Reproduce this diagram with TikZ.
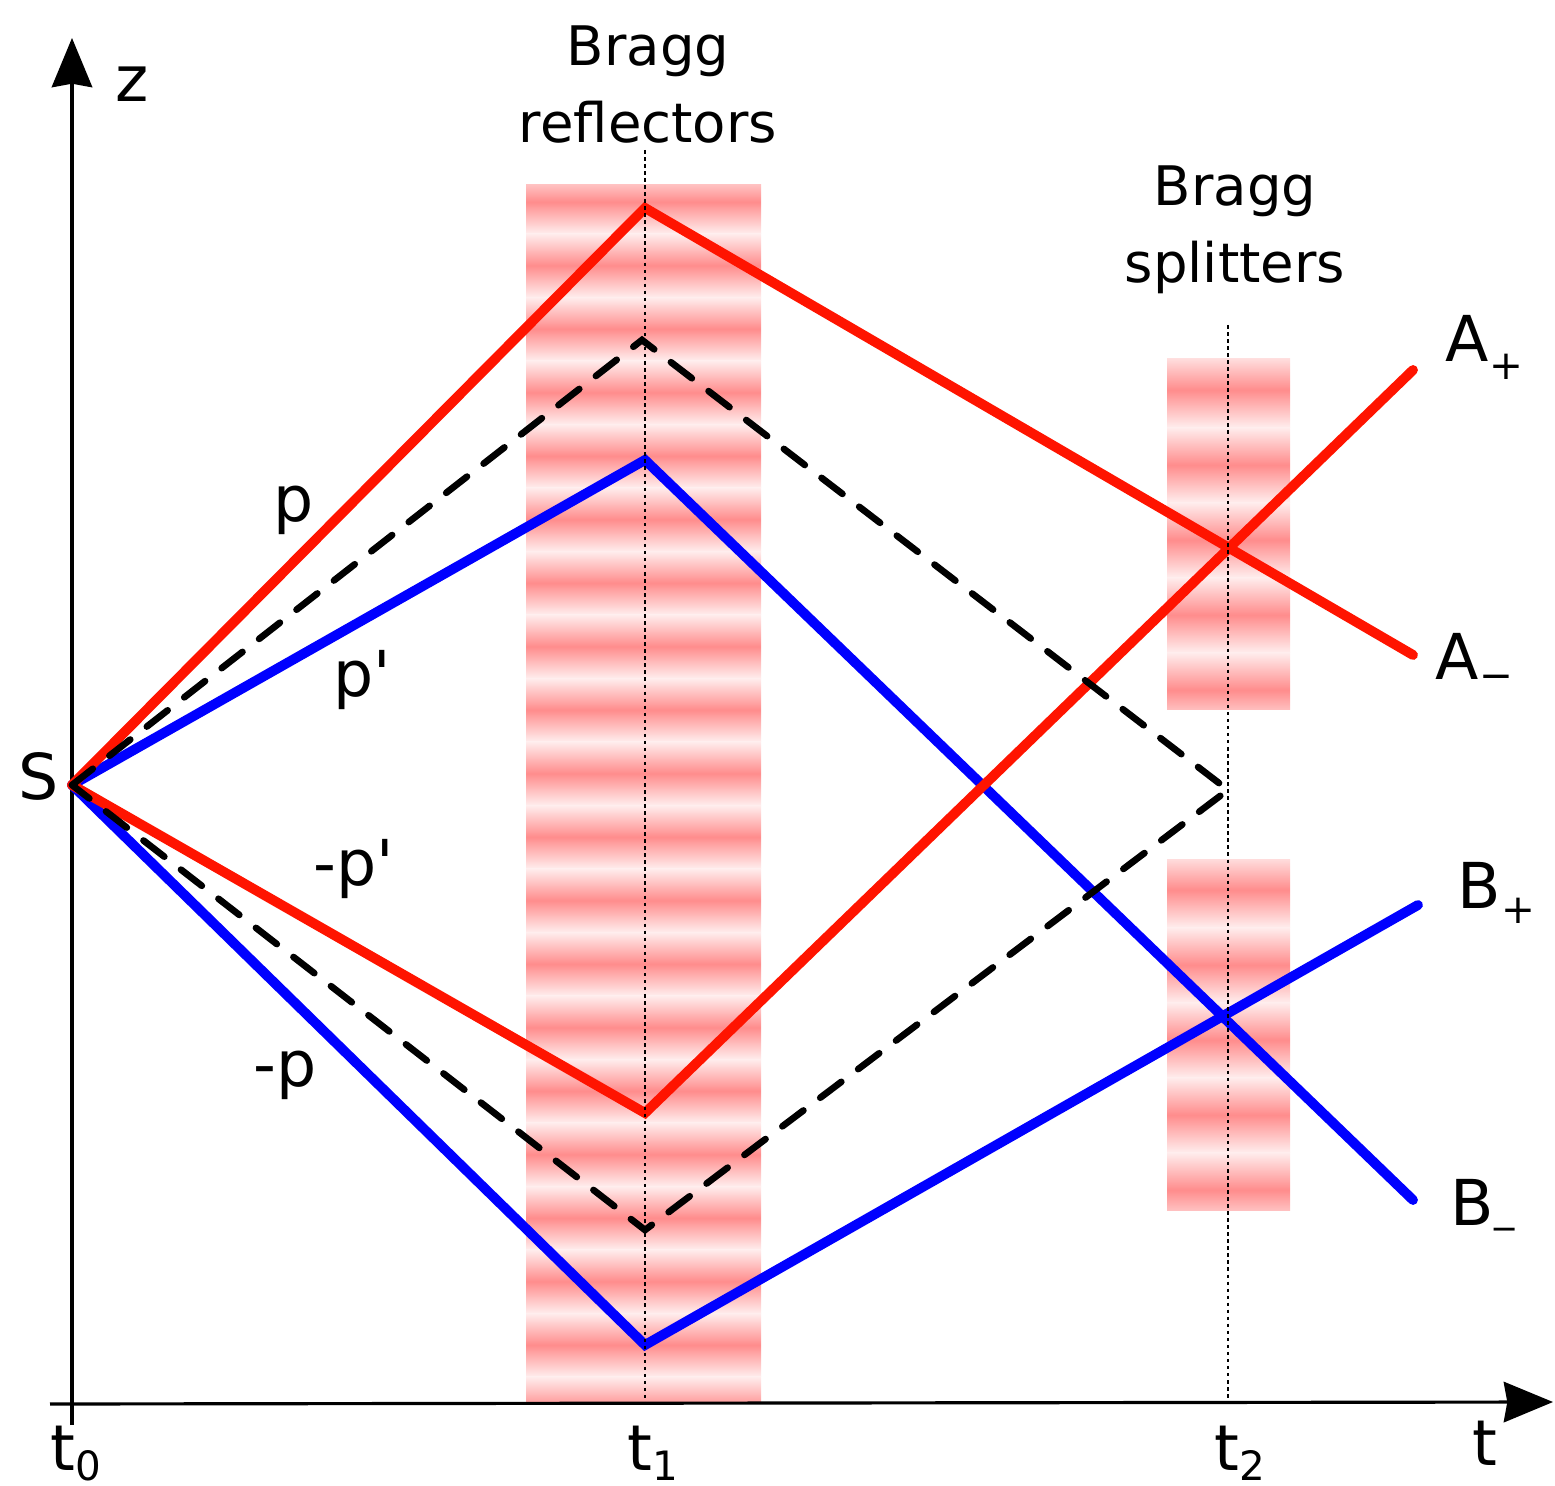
\documentclass[tikz,border=0pt]{standalone}
\usepackage{fontspec}
\setmainfont{DejaVu Sans}
\usetikzlibrary{arrows.meta}

\definecolor{beamred}{RGB}{255,20,0}
\definecolor{beamblue}{RGB}{0,0,255}

% small lowered index, as the labels print it
\newcommand{\lowsub}[2][-3pt]{\raisebox{#1}{\fontsize{11.5}{12}\selectfont #2}}

\tikzset{
  axis/.style={line width=0.9pt,-{Stealth[length=14pt,width=11.5pt,inset=1pt]}},
  beamA/.style={beamred,line width=2.8pt,line cap=round},
  beamB/.style={beamblue,line width=2.8pt,line cap=round},
  refpath/.style={black,line width=1.9pt,line cap=round,dash pattern=on 7.5pt off 6pt},
  timemark/.style={line width=0.45pt,dash pattern=on 1pt off 1pt},
  stripe/.style={top color=red!7,bottom color=red!7,middle color=red!45},
  lbl/.style={font=\fontsize{18}{22}\selectfont,inner sep=0pt},
  bragglbl/.style={font=\fontsize{15.5}{21.9}\selectfont,align=center,inner sep=0pt},
}

\begin{document}
\begin{tikzpicture}[x=0.01cm,y=-0.01cm]
\useasboundingbox (0,0) rectangle (1555,1486);

%-------------------------------------------------------------------
% Bragg reflector band at t1
\begin{scope}
  \clip (526,185) rectangle (761,1403);
  \foreach \k in {-1,...,19}{
    \shade[stripe] (526,{170.25+63.5*\k}) rectangle (761,{233.75+63.5*\k});
  }
\end{scope}

% Bragg splitter bands at t2
\begin{scope}
  \clip (1167,359) rectangle (1290,710);
  \foreach \k in {-1,...,5}{
    \shade[stripe] (1167,{352.5+75*\k}) rectangle (1290,{427.5+75*\k});
  }
\end{scope}
\begin{scope}
  \clip (1167,859) rectangle (1290,1210);
  \foreach \k in {-1,...,5}{
    \shade[stripe] (1167,{852.5+75*\k}) rectangle (1290,{927.5+75*\k});
  }
\end{scope}

%-------------------------------------------------------------------
% Axes
\coordinate (zbot) at (72,1425);
\coordinate (ztop) at (72,38);
\coordinate (tleft) at (50,1404);
\coordinate (tright) at (1553,1402);
\draw[axis] (zbot)--(ztop);
\draw[axis] (tleft)--(tright);

%-------------------------------------------------------------------
% Source and turning points
\coordinate (S) at (72,785);
\coordinate (Rup) at (645,208);
\coordinate (Rdn) at (645,1113);
\coordinate (Bup) at (645,460);
\coordinate (Bdn) at (645,1345);
\coordinate (Dup) at (642,340);
\coordinate (Ddn) at (645,1230);
\coordinate (Dend) at (1228,790);
\coordinate (Aplus) at (1413,370);
\coordinate (Aminus) at (1413,655);
\coordinate (Bplus) at (1418,905);
\coordinate (Bminus) at (1413,1200);

% Blue arms
\draw[beamB] (S)--(Bup)--(Bminus);
\draw[beamB] (S)--(Bdn)--(Bplus);

% Red arms
\draw[beamA] (S)--(Rup)--(Aminus);
\draw[beamA] (S)--(Rdn)--(Aplus);

% Reference (dashed) diamond
\draw[refpath] (S)--(Dup)--(Dend)--(Ddn)--cycle;

%-------------------------------------------------------------------
% Time markers
\coordinate (t1top) at (645,150);
\coordinate (t1bot) at (645,1403);
\coordinate (t2top) at (1228,325);
\coordinate (t2bot) at (1228,1403);
\draw[timemark] (t1top)--(t1bot);
\draw[timemark] (t2top)--(t2bot);

%-------------------------------------------------------------------
% Labels
\node[lbl,anchor=base west] (zlbl) at (115,102) {z};
\node[lbl,anchor=base west] (tlbl) at (1472,1465) {t};
\node[lbl,anchor=base west] (t0lbl) at (50,1470) {t\lowsub{0}};
\node[lbl,anchor=base west] (t1lbl) at (627,1470) {t\lowsub{1}};
\node[lbl,anchor=base west] (t2lbl) at (1214,1470) {t\lowsub{2}};
\node[lbl,anchor=base west] (Slbl) at (18,800) {S};

\node[lbl,anchor=base west] (plbl) at (273,522) {p};
\node[lbl,anchor=base west] (pplbl) at (333,697) {p\textquotesingle};
\node[lbl,anchor=base west] (mpplbl) at (313,885) {-p\textquotesingle};
\node[lbl,anchor=base west] (mplbl) at (253,1086) {-p};

\node[lbl,anchor=base west] (Apl) at (1445,362) {A\lowsub[-5pt]{+}};
\node[lbl,anchor=base west] (Aml) at (1435,680) {A\lowsub[-2.8pt]{−}};
\node[lbl,anchor=base west] (Bpl) at (1457,908) {B\lowsub[-4.5pt]{+}};
\node[lbl,anchor=base west] (Bml) at (1450,1225) {B\lowsub[1pt]{\_}};

\node[bragglbl,anchor=north] (refl) at (648,25) {Bragg\\reflectors};
\node[bragglbl,anchor=north] (split) at (1235,165) {Bragg\\splitters};

\end{tikzpicture}
\end{document}
